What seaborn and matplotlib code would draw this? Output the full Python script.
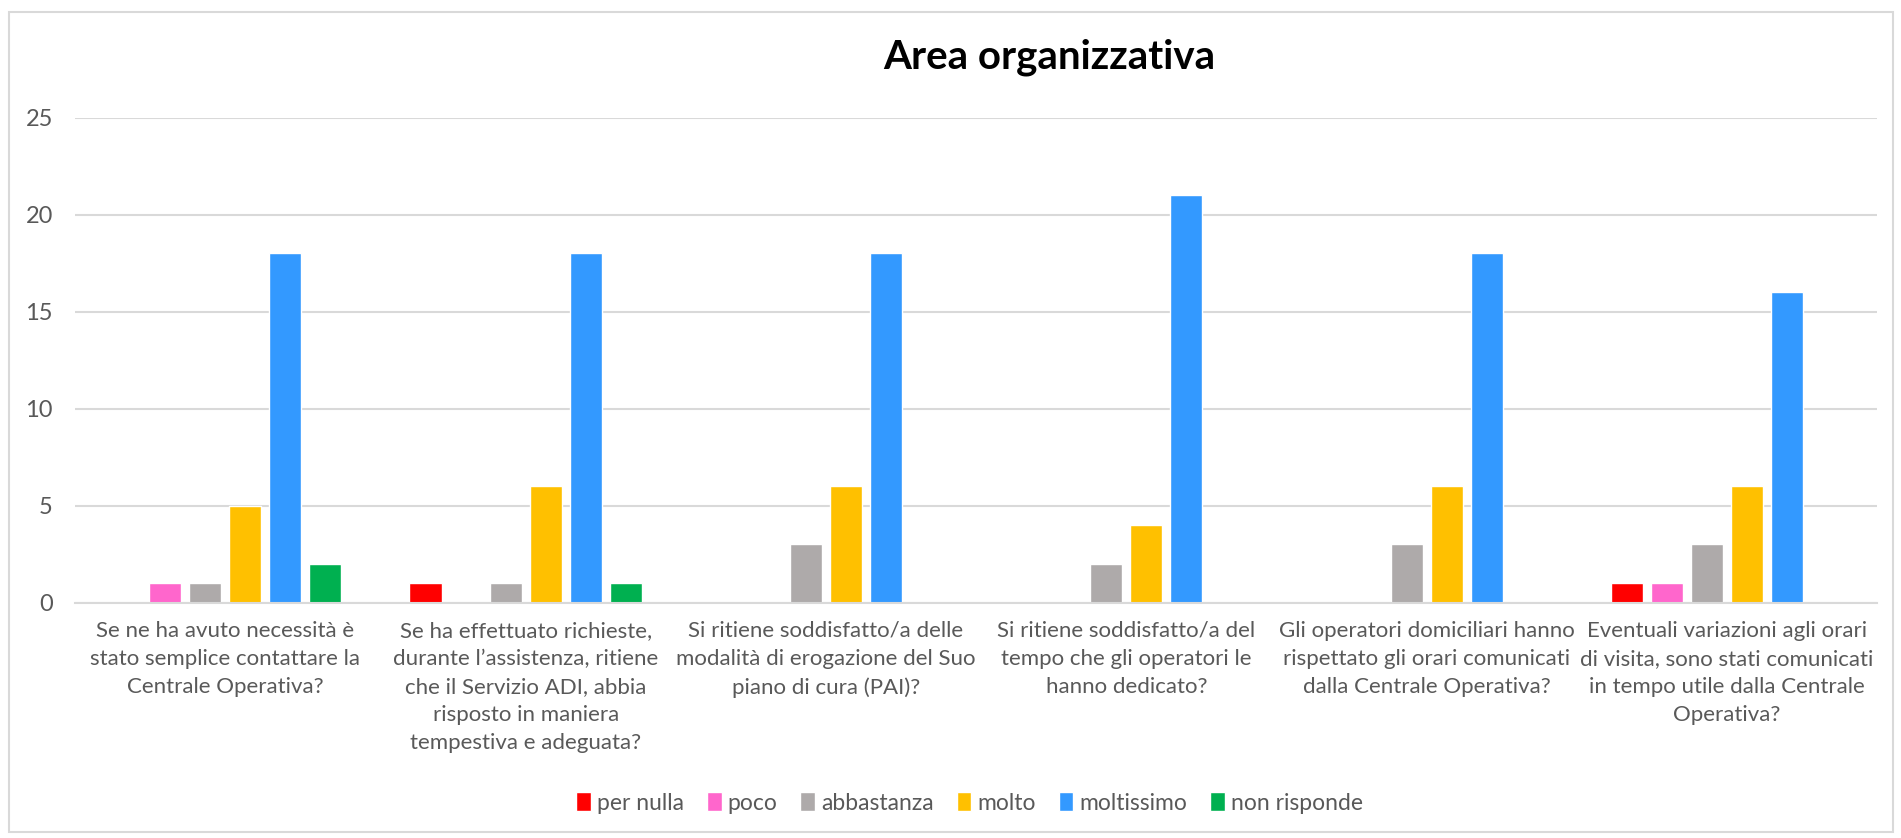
import matplotlib
matplotlib.use("Agg")
import matplotlib.pyplot as plt
import pandas as pd
import seaborn as sns
from matplotlib.patches import Rectangle

domande = [
    "Se ne ha avuto necessità è\nstato semplice contattare la\nCentrale Operativa?",
    "Se ha effettuato richieste,\ndurante l’assistenza, ritiene\nche il Servizio ADI, abbia\nrisposto in maniera\ntempestiva e adeguata?",
    "Si ritiene soddisfatto/a delle\nmodalità di erogazione del Suo\npiano di cura (PAI)?",
    "Si ritiene soddisfatto/a del\ntempo che gli operatori le\nhanno dedicato?",
    "Gli operatori domiciliari hanno\nrispettato gli orari comunicati\ndalla Centrale Operativa?",
    "Eventuali variazioni agli orari\ndi visita, sono stati comunicati\nin tempo utile dalla Centrale\nOperativa?",
]
risposte = ["per nulla", "poco", "abbastanza", "molto", "moltissimo", "non risponde"]
per_nulla = [0, 1, 0, 0, 0, 1]
poco = [1, 0, 0, 0, 0, 1]
abbastanza = [1, 1, 3, 2, 3, 3]
molto = [5, 6, 6, 4, 6, 6]
moltissimo = [18, 18, 18, 21, 18, 16]
non_risponde = [2, 1, 0, 0, 0, 0]
colori = ["#FF0000", "#FF66CC", "#AEAAAA", "#FFC000", "#3399FF", "#00B050"]

serie = [per_nulla, poco, abbastanza, molto, moltissimo, non_risponde]
righe = []
for r, vals in zip(risposte, serie):
    for d, v in zip(domande, vals):
        righe.append({"domanda": d, "risposta": r, "valore": v})
df = pd.DataFrame(righe)

sns.set_style("white")
plt.rcParams["font.family"] = ["Lato", "DejaVu Sans"]

fig = plt.figure(figsize=(19.01, 8.38), dpi=100)
ax = fig.add_axes([0.0395, 0.2809, 0.948, 0.5788])

sns.barplot(data=df, x="domanda", y="valore", hue="risposta", hue_order=risposte,
            order=domande, palette=colori, width=0.8, gap=0.2, ax=ax, saturation=1,
            legend=True)

ax.set_ylim(0, 25)
ax.set_yticks([0, 5, 10, 15, 20, 25])
ax.set_xlim(-0.5, 5.5)
ax.yaxis.grid(True, color="#D9D9D9", linewidth=1.5)
ax.set_axisbelow(True)
for s in ["top", "right", "left"]:
    ax.spines[s].set_visible(False)
ax.spines["bottom"].set_color("#D9D9D9")
ax.spines["bottom"].set_linewidth(1.5)
ax.set_xlabel("")
ax.set_ylabel("")
ax.tick_params(axis="x", length=0, pad=13, labelsize=16, labelcolor="#595959")
ax.tick_params(axis="y", length=0, pad=16, labelsize=17, labelcolor="#595959")
for t in ax.get_xticklabels():
    t.set_linespacing(1.5)

handles, labels = ax.get_legend_handles_labels()
ax.get_legend().remove()
fig.legend(handles, labels, loc="center", bbox_to_anchor=(0.51, 0.042), ncol=6,
           frameon=False, fontsize=16.5, handlelength=0.65, handleheight=0.9,
           handletextpad=0.25, columnspacing=1.0, labelcolor="#595959")

fig.text(0.552, 0.932, "Area organizzativa", ha="center", va="center",
         fontsize=29, fontweight="bold", color="black")

fig.patches.append(Rectangle((0.0045, 0.007), 0.9913, 0.9787, transform=fig.transFigure,
                             fill=False, edgecolor="#D9D9D9", linewidth=1.5))

fig.savefig("out.png", dpi=100)
